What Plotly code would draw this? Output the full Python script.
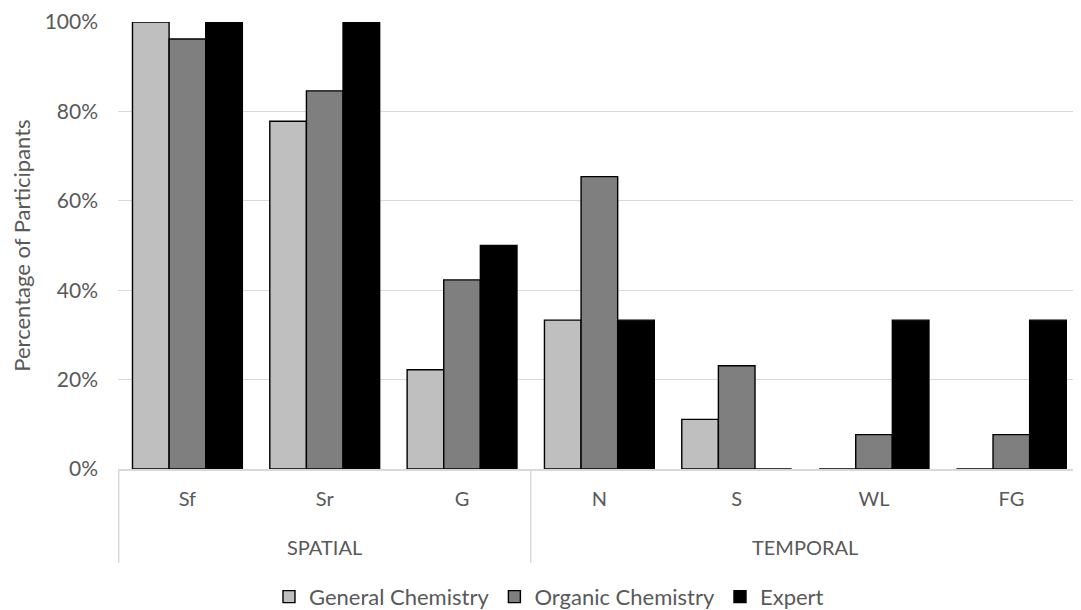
import plotly.graph_objects as go

categories = ["Sf", "Sr", "G", "N", "S", "WL", "FG"]
group_names = ["SPATIAL", "TEMPORAL"]
group_sizes = [3, 4]
general = [100, 77.8, 22.2, 33.3, 11.1, 0, 0]
organic = [96.2, 84.6, 42.3, 65.4, 23.1, 7.7, 7.7]
expert = [100, 100, 50, 33.3, 0, 33.3, 33.3]
series_names = ["General Chemistry", "Organic Chemistry", "Expert"]
colors = ["#bfbfbf", "#7f7f7f", "#000000"]

FONT = "Lato"
TXT = "#595959"
GRID = "#d9d9d9"

fig = go.Figure()
for name, vals, c in zip(series_names, [general, organic, expert], colors):
    fig.add_trace(go.Bar(
        x=categories, y=vals, name=name,
        marker=dict(color=c, line=dict(color="#000000", width=1.4)),
    ))

# group labels and dividers
start = 0
for gname, n in zip(group_names, group_sizes):
    fig.add_annotation(x=start + (n - 1) / 2, y=-0.1745, xref="x", yref="paper",
                       text=gname, showarrow=False, yanchor="middle",
                       font=dict(family=FONT, size=20, color=TXT))
    fig.add_shape(type="line", xref="x", yref="paper", x0=start - 0.5, x1=start - 0.5,
                  y0=0, y1=-0.21, line=dict(color=GRID, width=1.5))
    start += n

fig.update_layout(
    width=1073, height=602,
    paper_bgcolor="white", plot_bgcolor="white",
    margin=dict(l=110, r=1, t=14, b=141, autoexpand=False),
    barmode="group", bargap=0.2, bargroupgap=0,
    font=dict(family=FONT, color=TXT, size=20),
    legend=dict(orientation="h", x=0.448, xanchor="center",
                y=-0.286, yanchor="middle",
                font=dict(size=22, color=TXT), traceorder="normal"),
    showlegend=True,
)
fig.update_yaxes(range=[0, 100], dtick=20, ticksuffix="%", showgrid=True,
                 gridcolor=GRID, gridwidth=1, zeroline=False, automargin=False,
                 showline=False, ticks="", tickfont=dict(size=21, color=TXT),
                 ticklabelstandoff=19,
                 title=dict(text="Percentage of Participants", font=dict(size=22, color=TXT), standoff=11))
fig.update_xaxes(showline=True, linecolor=GRID, linewidth=2, automargin=False,
                 tickfont=dict(size=20, color=TXT), ticks="", ticklabelstandoff=11)

fig.write_html("out.html")
